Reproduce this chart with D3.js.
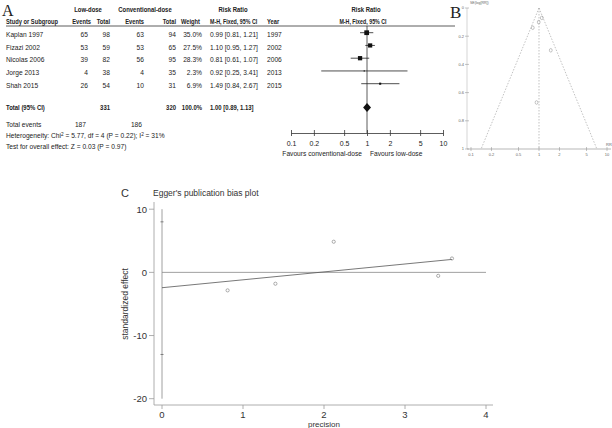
<!DOCTYPE html>
<html><head><meta charset="utf-8">
<script src="https://cdn.jsdelivr.net/npm/d3@7"></script>
<style>
html,body{margin:0;padding:0;background:#fff;}
svg{display:block;}
.t{font-family:"Liberation Sans",Arial,sans-serif;font-size:7px;fill:#222;}
.b{font-weight:bold;}
.e{font-family:"Liberation Sans",Arial,sans-serif;fill:#333;}
</style></head>
<body>
<svg id="c" width="612" height="428"></svg>
<script>
// ---------- Data ----------
const studies = ["Kaplan 1997","Fizazi 2002","Nicolas 2006","Jorge 2013","Shah 2015"];
const lowEvents = [65,53,39,4,26];
const lowTotal = [98,59,82,38,54];
const convEvents = [63,53,56,4,10];
const convTotal = [94,65,95,35,31];
const weights = [35.0,27.5,28.3,2.3,6.9];
const rr = [0.99,1.10,0.81,0.92,1.49];
const ciLow = [0.81,0.95,0.61,0.25,0.84];
const ciHigh = [1.21,1.27,1.07,3.41,2.67];
const years = [1997,2002,2006,2013,2015];
const totalRR = [1.00,0.89,1.13];
const totalN = [331,320];
const totalEvents = [187,186];
const forestTicks = [0.1,0.2,0.5,1,2,5,10];

const funnelSE = [0.10,0.07,0.14,0.67,0.30];
const funnelYTicks = [0,0.2,0.4,0.6,0.8,1];
const funnelXTicks = [0.1,0.2,0.5,1,2,5,10];

const eggerPrecision = [0.81,1.40,2.12,3.41,3.58];
const eggerEffect = [-2.85,-1.8,4.85,-0.55,2.2];
const eggerFitX = [0,3.58];
const eggerFitY = [-2.43,2.05];
const eggerVLine = [10,-20];
const eggerCI = [8,-13];
const eggerXTicks = [0,1,2,3,4];
const eggerYTicks = [10,0,-10,-20];

const svg = d3.select("#c");
const f2 = d3.format(".2f");

// ---------- Panel A ----------
svg.append("text").attr("x",2).attr("y",15.5).attr("font-family","Liberation Serif,serif").attr("font-size",16).attr("fill","#222").text("A");
const A = svg.append("g");
function txt(x,y,s,anchor,bold,sx){
  const k = sx || (bold ? 0.85 : 0.95);
  return A.append("text").attr("class","t"+(bold?" b":""))
    .attr("transform",`translate(${x},${y}) scale(${k},1)`)
    .attr("text-anchor",anchor||"start").text(s);
}
txt(88,11.5,"Low-dose","middle",true);
txt(145,11.5,"Conventional-dose","middle",true);
txt(233,11.5,"Risk Ratio","middle",true);
txt(366,11.5,"Risk Ratio","middle",true);
txt(6,24,"Study or Subgroup","start",true,0.82);
txt(91,24,"Events","end",true,0.82);
txt(110,24,"Total","end",true,0.82);
txt(144,24,"Events","end",true,0.82);
txt(176,24,"Total","end",true,0.82);
txt(181,24,"Weight","start",true,0.82);
txt(210,24,"M-H, Fixed, 95% CI","start",true,0.76);
txt(267,24,"Year","start",true,0.82);
txt(363,24,"M-H, Fixed, 95% CI","middle",true,0.76);
A.append("line").attr("x1",6).attr("x2",455).attr("y1",26).attr("y2",26).attr("stroke","#333").attr("stroke-width",0.8);

const rowY = d3.scaleLinear().domain([0,1]).range([34.3,47.05]);
studies.forEach((s,i)=>{
  const y = rowY(i)+2.5;
  txt(6,y,s);
  txt(88,y,lowEvents[i],"end");
  txt(110,y,lowTotal[i],"end");
  txt(144,y,convEvents[i],"end");
  txt(176,y,convTotal[i],"end");
  txt(202,y,weights[i].toFixed(1)+"%","end");
  txt(210,y,f2(rr[i])+" ["+f2(ciLow[i])+", "+f2(ciHigh[i])+"]");
  txt(267,y,years[i]);
});
const yTot = 110.3;
txt(6,yTot,"Total (95% CI)","start",true);
txt(110,yTot,totalN[0],"end",true);
txt(176,yTot,totalN[1],"end",true);
txt(202,yTot,"100.0%","end",true);
txt(210,yTot,f2(totalRR[0])+" ["+f2(totalRR[1])+", "+f2(totalRR[2])+"]","start",true,0.85);
txt(6,127,"Total events");
txt(86,127,totalEvents[0],"end");
txt(142,127,totalEvents[1],"end");
const het = txt(6,138,"Heterogeneity: Chi");
het.append("tspan").attr("dy",-2.5).attr("font-size",5).text("2");
het.append("tspan").attr("dy",2.5).text(" = 5.77, df = 4 (P = 0.22); I");
het.append("tspan").attr("dy",-2.5).attr("font-size",5).text("2");
het.append("tspan").attr("dy",2.5).text(" = 31%");
txt(6,148.5,"Test for overall effect: Z = 0.03 (P = 0.97)");

// forest
const fx = d3.scaleLog().domain([0.1,10]).range([291,443]);
const axisY = 133;
A.append("line").attr("x1",fx(1)).attr("x2",fx(1)).attr("y1",26).attr("y2",axisY).attr("stroke","#333").attr("stroke-width",0.8);
studies.forEach((s,i)=>{
  const y = rowY(i)-1.6;
  A.append("line").attr("x1",fx(ciLow[i])).attr("x2",fx(ciHigh[i])).attr("y1",y).attr("y2",y).attr("stroke","#222").attr("stroke-width",0.8);
  const sz = Math.sqrt(weights[i])*0.8;
  A.append("rect").attr("x",fx(rr[i])-sz/2).attr("y",y-sz/2).attr("width",sz).attr("height",sz).attr("fill","#111");
});
const dy = 107.5;
A.append("path").attr("d",`M${fx(totalRR[1])},${dy}L${fx(totalRR[0])},${dy-4.5}L${fx(totalRR[2])},${dy}L${fx(totalRR[0])},${dy+4.5}Z`).attr("fill","#111");
const fax = A.append("g").attr("transform",`translate(0,${axisY})`)
  .call(d3.axisBottom(fx).tickValues(forestTicks).tickFormat(d=>String(d)).tickSize(3).tickSizeOuter(0));
fax.attr("font-family",null).attr("font-size",null);
fax.select(".domain").attr("stroke","#333").attr("stroke-width",0.8);
fax.selectAll(".tick line").attr("y1",-3).attr("y2",3).attr("stroke","#333").attr("stroke-width",0.8);
fax.selectAll(".tick text").attr("class","t").attr("dy",0).attr("y",12.5);
txt(362,155.5,"Favours conventional-dose","end");
txt(370,155.5,"Favours low-dose","start");

// ---------- Panel B ----------
svg.append("text").attr("x",450).attr("y",18).attr("font-family","Liberation Serif,serif").attr("font-size",17).attr("fill","#222").text("B");
const B = svg.append("g");
const bx = d3.scaleLog().domain([0.1,10]).range([471,607]);
const by = d3.scaleLinear().domain([0,1]).range([8,149]);
const bAxisX = 467;
B.append("line").attr("x1",bAxisX).attr("x2",bAxisX).attr("y1",by(0)).attr("y2",by(1)).attr("stroke","#bbb").attr("stroke-width",0.6);
B.append("line").attr("x1",bAxisX).attr("x2",611).attr("y1",by(1)).attr("y2",by(1)).attr("stroke","#999").attr("stroke-width",0.7);
funnelYTicks.forEach(t=>{
  B.append("line").attr("x1",bAxisX-2).attr("x2",bAxisX+2).attr("y1",by(t)).attr("y2",by(t)).attr("stroke","#888").attr("stroke-width",0.5);
  B.append("text").attr("x",bAxisX-3).attr("y",by(t)+1.3).attr("text-anchor","end").attr("font-size",4).attr("font-family","Liberation Sans,Arial").attr("fill","#666").text(String(t));
});
funnelXTicks.forEach(t=>{
  B.append("line").attr("x1",bx(t)).attr("x2",bx(t)).attr("y1",by(1)-2).attr("y2",by(1)+2).attr("stroke","#888").attr("stroke-width",0.5);
  B.append("text").attr("x",bx(t)).attr("y",by(1)+7).attr("text-anchor","middle").attr("font-size",4).attr("font-family","Liberation Sans,Arial").attr("fill","#666").text(String(t));
});
B.append("text").attr("x",470).attr("y",4).attr("font-size",3.5).attr("font-family","Liberation Sans,Arial").attr("fill","#666").text("SE(log[RR])");
B.append("text").attr("x",606).attr("y",by(1)-3).attr("font-size",4).attr("font-family","Liberation Sans,Arial").attr("fill","#666").text("RR");
const seMax = 1, z = 1.96;
B.append("line").attr("x1",bx(1)).attr("x2",bx(1)).attr("y1",by(0)).attr("y2",by(seMax)).attr("stroke","#999").attr("stroke-width",0.6).attr("stroke-dasharray","1.5,1.5");
B.append("line").attr("x1",bx(1)).attr("x2",bx(Math.exp(-z*seMax))).attr("y1",by(0)).attr("y2",by(seMax)).attr("stroke","#999").attr("stroke-width",0.6).attr("stroke-dasharray","1.5,1.5");
B.append("line").attr("x1",bx(1)).attr("x2",bx(Math.exp(z*seMax))).attr("y1",by(0)).attr("y2",by(seMax)).attr("stroke","#999").attr("stroke-width",0.6).attr("stroke-dasharray","1.5,1.5");
rr.forEach((r,i)=>{
  B.append("ellipse").attr("cx",bx(r)).attr("cy",by(funnelSE[i])).attr("rx",1.4).attr("ry",1.8).attr("fill","none").attr("stroke","#888").attr("stroke-width",0.5);
});

// ---------- Panel C ----------
const C = svg.append("g");
C.append("text").attr("class","e").attr("x",121).attr("y",197).attr("font-size",11).text("C");
C.append("text").attr("class","e").attr("x",153).attr("y",196).attr("font-size",8.5).text("Egger's publication bias plot");
const ex = d3.scaleLinear().domain([0,4]).range([162,486]);
const ey = d3.scaleLinear().domain([-20,10]).range([398.7,209.2]);
const eAxisX = 154, eAxisY = 405;
C.append("line").attr("x1",eAxisX).attr("x2",eAxisX).attr("y1",202).attr("y2",eAxisY).attr("stroke","#999").attr("stroke-width",0.8);
C.append("line").attr("x1",eAxisX).attr("x2",493).attr("y1",eAxisY).attr("y2",eAxisY).attr("stroke","#999").attr("stroke-width",0.8);
eggerYTicks.forEach(t=>{
  C.append("line").attr("x1",eAxisX-5).attr("x2",eAxisX).attr("y1",ey(t)).attr("y2",ey(t)).attr("stroke","#999").attr("stroke-width",0.8);
  C.append("text").attr("class","e").attr("x",eAxisX-7).attr("y",ey(t)+3.3).attr("text-anchor","end").attr("font-size",9.5).text(String(t));
});
eggerXTicks.forEach(t=>{
  C.append("line").attr("x1",ex(t)).attr("x2",ex(t)).attr("y1",eAxisY).attr("y2",eAxisY+4).attr("stroke","#999").attr("stroke-width",0.8);
  C.append("text").attr("class","e").attr("x",ex(t)).attr("y",eAxisY+12.5).attr("text-anchor","middle").attr("font-size",9.5).text(String(t));
});
C.append("text").attr("class","e").attr("transform",`translate(128,${ey(-5)}) rotate(-90)`).attr("text-anchor","middle").attr("font-size",8.5).text("standardized effect");
C.append("text").attr("class","e").attr("x",ex(2)).attr("y",427).attr("text-anchor","middle").attr("font-size",8).text("precision");
// reference lines
C.append("line").attr("x1",ex(0)).attr("x2",ex(4)).attr("y1",ey(0)).attr("y2",ey(0)).attr("stroke","#888").attr("stroke-width",0.8);
C.append("line").attr("x1",ex(0)).attr("x2",ex(0)).attr("y1",ey(eggerVLine[0])).attr("y2",ey(eggerVLine[1])).attr("stroke","#888").attr("stroke-width",0.8);
eggerCI.forEach(v=>{
  C.append("line").attr("x1",ex(0)-1.5).attr("x2",ex(0)+1.5).attr("y1",ey(v)).attr("y2",ey(v)).attr("stroke","#666").attr("stroke-width",0.8);
});
C.append("line").attr("x1",ex(eggerFitX[0])).attr("x2",ex(eggerFitX[1])).attr("y1",ey(eggerFitY[0])).attr("y2",ey(eggerFitY[1])).attr("stroke","#555").attr("stroke-width",0.8);
eggerPrecision.forEach((p,i)=>{
  C.append("circle").attr("cx",ex(p)).attr("cy",ey(eggerEffect[i])).attr("r",1.6).attr("fill","none").attr("stroke","#777").attr("stroke-width",0.6);
});
</script>
</body></html>
